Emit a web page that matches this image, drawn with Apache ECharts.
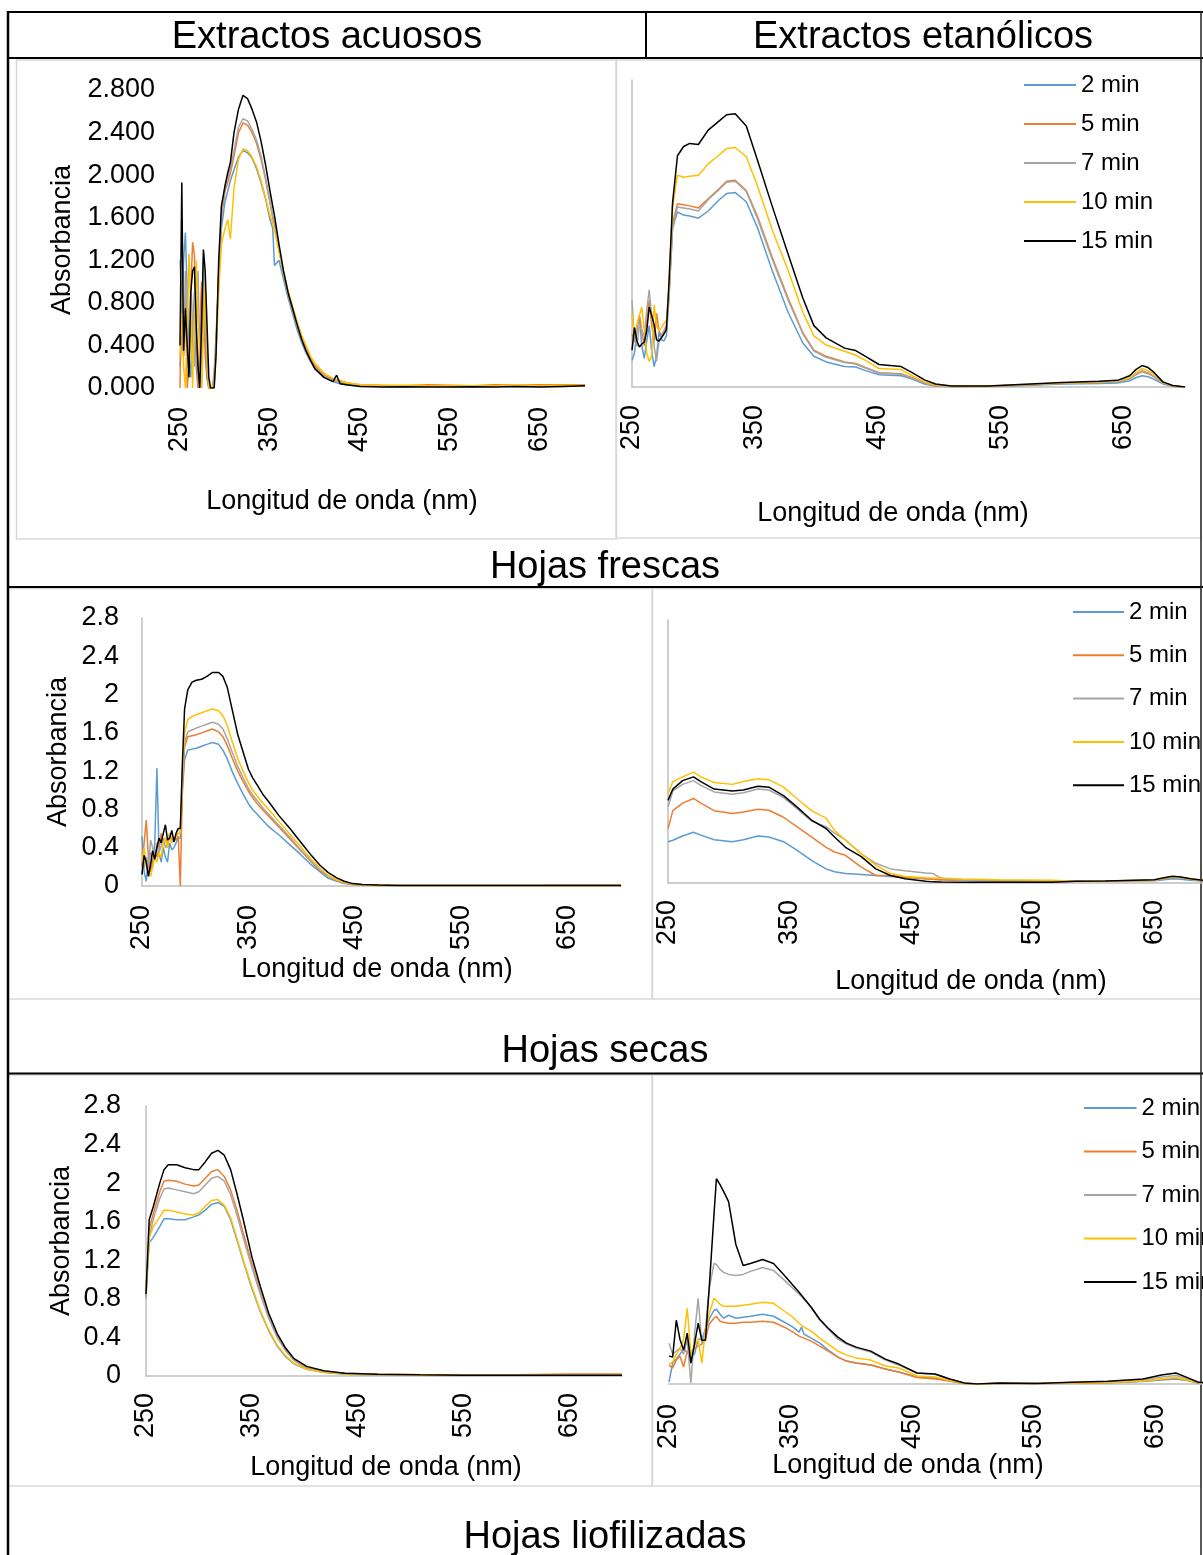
<!DOCTYPE html>
<html>
<head>
<meta charset="utf-8">
<script src="https://cdn.jsdelivr.net/npm/echarts@6/dist/echarts.min.js"></script>
<style>
  html, body { margin: 0; padding: 0; background: #fff; overflow: hidden; }
  #chart { width: 1203px; height: 1555px; }
</style>
</head>
<body>
<div id="chart"></div>
<script>
// ---- Spectra (absorbance vs wavelength, nm) ----
const seriesNames = ['2 min', '5 min', '7 min', '10 min', '15 min'];

// Extractos acuosos - hojas frescas
const wlAcuFre = [250,252,254,256,258,260,262,264,266,268,270,272,274,276,278,280,282,284,286,288,290,293,296,300,303,306,310,315,320,325,330,335,340,345,350,353,355,360,365,370,375,380,385,390,395,400,410,420,424,428,435,450,475,500,525,550,575,600,625,650,675,700];
const acuFre2  = [0.20,0.60,1.20,1.46,0.90,0.30,0.10,0.50,0.90,0.20,0.00,0.30,0.90,1.00,0.50,0.10,0.00,0.00,0.00,0.10,0.50, 1.00,1.50,1.75,1.85,1.95,2.05,2.17,2.23,2.21,2.16,2.06,1.93,1.78,1.58,1.50,1.15,1.20,1.02,0.85,0.70,0.55,0.43,0.33,0.25,0.18,0.10,0.06,0.05,0.04,0.03,0.02,0.015,0.015,0.02,0.015,0.015,0.02,0.015,0.015,0.02,0.02];
const acuFre5  = [0.00,1.00,0.30,0.80,0.00,0.20,0.90,1.37,1.25,0.50,0.00,0.50,1.00,0.90,0.30,0.10,0.00,0.00,0.00,0.05,0.40, 1.05,1.60,1.85,1.93,2.02,2.18,2.40,2.49,2.47,2.40,2.30,2.15,1.96,1.74,1.60,1.53,1.30,1.07,0.90,0.74,0.60,0.48,0.37,0.28,0.21,0.12,0.08,0.07,0.06,0.05,0.03,0.025,0.02,0.03,0.025,0.02,0.03,0.025,0.03,0.03,0.03];
const acuFre7  = [1.20,0.80,0.30,1.10,0.50,0.20,1.00,0.60,0.20,0.90,1.10,0.30,0.00,1.20,0.70,0.20,0.00,0.00,0.00,0.00,0.35, 1.10,1.62,1.90,1.98,2.07,2.23,2.45,2.53,2.51,2.43,2.33,2.18,1.98,1.75,1.62,1.55,1.30,1.07,0.88,0.72,0.58,0.45,0.35,0.26,0.19,0.11,0.07,0.06,0.05,0.04,0.02,0.015,0.015,0.015,0.015,0.015,0.015,0.015,0.015,0.015,0.02];
const acuFre10 = [0.30,0.70,0.20,0.00,0.50,1.26,0.80,0.00,0.70,1.20,0.60,0.40,0.00,0.50,1.00,0.40,0.00,0.00,0.00,0.05,0.30, 0.90,1.35,1.50,1.58,1.40,1.88,2.15,2.245,2.23,2.17,2.08,1.95,1.79,1.62,1.55,1.48,1.28,1.10,0.92,0.77,0.63,0.50,0.40,0.30,0.23,0.14,0.09,0.08,0.07,0.05,0.03,0.02,0.025,0.02,0.02,0.022,0.02,0.025,0.02,0.025,0.025];
const acuFre15 = [0.40,1.93,0.35,0.75,0.40,0.10,0.90,1.10,1.14,0.60,0.20,0.00,0.60,1.30,1.10,0.60,0.10,0.00,0.00,0.00,0.30, 1.20,1.71,1.90,2.02,2.12,2.40,2.62,2.75,2.72,2.62,2.50,2.32,2.10,1.85,1.71,1.62,1.35,1.10,0.90,0.75,0.60,0.46,0.35,0.26,0.18,0.10,0.06,0.12,0.04,0.03,0.015,0.01,0.012,0.01,0.01,0.012,0.01,0.015,0.01,0.015,0.02];

// Extractos etanólicos - hojas frescas
const wlEtaFre = [250,252,254,256,258,260,262,264,266,268,270,272,274,276,278,280,283,287,292,297,304,312,321,327,334,343,352,364,377,389,398,408,423,432,440,451,460,469,478,488,497,510,540,570,600,630,645,655,660,665,670,675,682,690,700];
const etaFre2  = [0.26,0.33,0.55,0.69,0.40,0.28,0.45,0.60,0.35,0.20,0.30,0.54,0.46,0.45,0.50, 0.85,1.55,1.71,1.68,1.67,1.65,1.72,1.83,1.89,1.90,1.81,1.56,1.14,0.73,0.43,0.30,0.245,0.20,0.195,0.16,0.12,0.115,0.11,0.077,0.03,0.01,0.005,0.006,0.015,0.03,0.035,0.04,0.06,0.09,0.11,0.10,0.075,0.03,0.008,0.0];
const etaFre5  = [0.52,0.45,0.60,0.70,0.55,0.40,0.65,0.85,0.60,0.45,0.72,0.55,0.50,0.55,0.60, 0.90,1.60,1.79,1.78,1.77,1.75,1.84,1.94,2.01,2.02,1.92,1.67,1.27,0.87,0.53,0.36,0.30,0.245,0.23,0.19,0.14,0.135,0.13,0.09,0.04,0.01,0.005,0.008,0.02,0.035,0.045,0.05,0.08,0.12,0.15,0.13,0.10,0.04,0.01,0.0];
const etaFre7  = [0.85,0.45,0.40,0.60,0.55,0.50,0.75,0.95,0.70,0.40,0.25,0.45,0.50,0.55,0.58, 0.88,1.55,1.76,1.75,1.74,1.72,1.83,1.93,2.00,2.01,1.91,1.65,1.25,0.85,0.52,0.35,0.29,0.24,0.225,0.185,0.135,0.13,0.125,0.085,0.04,0.01,0.005,0.008,0.02,0.035,0.045,0.05,0.08,0.12,0.16,0.14,0.10,0.04,0.01,0.0];
const etaFre10 = [0.72,0.50,0.60,0.70,0.78,0.55,0.33,0.25,0.30,0.80,0.60,0.55,0.58,0.62,0.65, 0.95,1.75,2.07,2.05,2.06,2.07,2.18,2.27,2.33,2.34,2.25,1.97,1.54,1.14,0.73,0.50,0.41,0.35,0.31,0.26,0.18,0.175,0.17,0.11,0.05,0.02,0.01,0.01,0.025,0.04,0.05,0.06,0.09,0.14,0.18,0.16,0.12,0.045,0.012,0.0];
const etaFre15 = [0.36,0.58,0.45,0.39,0.42,0.44,0.55,0.78,0.70,0.61,0.46,0.45,0.48,0.52,0.56, 1.00,1.80,2.26,2.35,2.38,2.37,2.51,2.60,2.66,2.67,2.55,2.22,1.77,1.30,0.87,0.60,0.48,0.38,0.356,0.30,0.22,0.21,0.20,0.14,0.07,0.03,0.01,0.01,0.027,0.044,0.055,0.065,0.11,0.17,0.21,0.19,0.14,0.05,0.015,0.0];

// Extractos acuosos - hojas secas
const wlAcuSec = [250,252,254,256,258,260,262,264,266,268,270,272,274,276,278,280,282,284,286,288,290,293,297,301,306,311,316,322,326,330,335,340,345,350,354,359,364,369,379,389,399,409,417,425,433,440,448,457,472,490,525,560,600,650,700];
const acuSec2  = [0.52,0.15,0.05,0.30,0.35,0.20,0.45,1.23,0.35,0.25,0.40,0.30,0.25,0.45,0.38,0.40,0.45,0.50, 0.50,1.00,1.32,1.42,1.43,1.44,1.46,1.48,1.50,1.48,1.42,1.33,1.19,1.07,0.96,0.86,0.80,0.74,0.68,0.62,0.53,0.43,0.33,0.22,0.15,0.08,0.05,0.025,0.015,0.01,0.005,0.005,0.005,0.005,0.005,0.005,0.005];
const acuSec5  = [0.20,0.45,0.69,0.30,0.15,0.25,0.35,0.30,0.40,0.55,0.45,0.50,0.40,0.55,0.45,0.50,0.48,0.52, 0.00,1.05,1.45,1.56,1.57,1.58,1.60,1.62,1.64,1.61,1.56,1.47,1.33,1.20,1.09,0.99,0.92,0.85,0.79,0.73,0.61,0.49,0.37,0.25,0.16,0.10,0.055,0.03,0.02,0.01,0.008,0.008,0.008,0.008,0.008,0.01,0.01];
const acuSec7  = [0.35,0.20,0.30,0.15,0.48,0.40,0.30,0.45,0.35,0.42,0.50,0.40,0.45,0.55,0.48,0.50,0.52,0.55, 0.55,1.10,1.50,1.61,1.63,1.65,1.67,1.69,1.71,1.69,1.64,1.54,1.39,1.25,1.13,1.02,0.95,0.88,0.81,0.75,0.63,0.51,0.38,0.26,0.17,0.10,0.06,0.03,0.02,0.01,0.005,0.005,0.005,0.005,0.005,0.005,0.005];
const acuSec10 = [0.25,0.40,0.20,0.15,0.10,0.20,0.30,0.25,0.35,0.30,0.45,0.50,0.40,0.55,0.45,0.50,0.52,0.55, 0.55,1.20,1.60,1.74,1.77,1.79,1.81,1.83,1.85,1.83,1.78,1.68,1.50,1.33,1.20,1.08,1.00,0.93,0.86,0.80,0.67,0.54,0.41,0.28,0.19,0.11,0.065,0.035,0.02,0.01,0.005,0.005,0.005,0.005,0.005,0.005,0.005];
const acuSec15 = [0.12,0.32,0.25,0.10,0.22,0.37,0.28,0.40,0.50,0.45,0.55,0.64,0.48,0.50,0.58,0.46,0.55,0.60, 0.60,1.30,1.85,2.05,2.13,2.15,2.16,2.19,2.23,2.23,2.19,2.08,1.83,1.58,1.40,1.22,1.13,1.04,0.95,0.88,0.73,0.60,0.46,0.32,0.22,0.14,0.085,0.05,0.025,0.015,0.01,0.005,0.005,0.005,0.005,0.005,0.005];

// Extractos etanólicos - hojas secas
const wlEtaSec = [250,254,262,271,277,288,303,312,324,333,345,356,368,380,387,396,409,421,433,445,462,468,475,492,522,566,586,610,650,658,665,672,680,690,700];
const etaSec2  = [0.44,0.455,0.50,0.54,0.51,0.46,0.44,0.46,0.50,0.49,0.44,0.35,0.24,0.15,0.12,0.10,0.09,0.08,0.07,0.06,0.045,0.04,0.035,0.03,0.025,0.02,0.018,0.02,0.025,0.035,0.045,0.04,0.03,0.02,0.015];
const etaSec5  = [0.58,0.77,0.85,0.90,0.85,0.77,0.74,0.755,0.785,0.775,0.70,0.60,0.49,0.38,0.33,0.295,0.17,0.08,0.08,0.064,0.045,0.04,0.035,0.028,0.022,0.02,0.018,0.02,0.03,0.045,0.06,0.055,0.04,0.025,0.015];
const etaSec7  = [0.81,0.98,1.05,1.09,1.04,0.97,0.945,0.96,1.00,0.99,0.91,0.79,0.66,0.60,0.53,0.46,0.31,0.21,0.15,0.13,0.107,0.10,0.05,0.028,0.022,0.02,0.018,0.02,0.03,0.05,0.065,0.06,0.04,0.03,0.015];
const etaSec10 = [0.95,1.08,1.13,1.18,1.13,1.07,1.05,1.08,1.11,1.10,1.02,0.90,0.77,0.69,0.56,0.455,0.31,0.19,0.10,0.07,0.055,0.053,0.05,0.043,0.035,0.028,0.018,0.02,0.03,0.05,0.064,0.06,0.04,0.03,0.02];
const etaSec15 = [0.88,1.00,1.09,1.13,1.08,1.00,0.98,0.99,1.03,1.02,0.93,0.81,0.67,0.58,0.49,0.38,0.28,0.15,0.08,0.046,0.018,0.012,0.01,0.007,0.007,0.008,0.018,0.022,0.035,0.055,0.071,0.065,0.045,0.03,0.015];

// Extractos acuosos - hojas liofilizadas
const wlAcuLio = [250,253,257,263,267,271,279,287,295,300,306,312,318,324,330,336,342,350,358,366,374,382,390,402,418,438,469,509,550,600,650,700];
const acuLio2  = [0.88,1.38,1.44,1.55,1.63,1.63,1.62,1.62,1.65,1.67,1.72,1.78,1.80,1.76,1.62,1.41,1.19,0.91,0.67,0.47,0.31,0.20,0.125,0.07,0.035,0.017,0.01,0.008,0.006,0.006,0.006,0.006];
const acuLio5  = [0.82,1.52,1.69,1.91,2.02,2.03,2.02,1.99,1.97,1.98,2.05,2.12,2.14,2.07,1.93,1.72,1.48,1.17,0.87,0.615,0.41,0.27,0.166,0.086,0.045,0.028,0.018,0.012,0.01,0.012,0.02,0.02];
const acuLio7  = [0.80,1.44,1.63,1.84,1.94,1.95,1.93,1.91,1.89,1.91,1.98,2.05,2.07,2.02,1.88,1.67,1.43,1.13,0.85,0.60,0.40,0.26,0.16,0.08,0.042,0.025,0.015,0.01,0.008,0.008,0.01,0.01];
const acuLio10 = [0.90,1.44,1.55,1.65,1.72,1.72,1.70,1.68,1.67,1.69,1.76,1.82,1.83,1.77,1.64,1.43,1.20,0.93,0.68,0.48,0.32,0.21,0.13,0.07,0.04,0.02,0.012,0.01,0.008,0.008,0.01,0.01];
const acuLio15 = [0.85,1.62,1.76,2.00,2.14,2.19,2.19,2.16,2.14,2.14,2.22,2.31,2.34,2.29,2.14,1.89,1.62,1.24,0.93,0.65,0.44,0.29,0.18,0.10,0.055,0.028,0.017,0.012,0.008,0.008,0.008,0.008];

// Extractos etanólicos - hojas liofilizadas
const wlEtaLio = [250,253,256,259,262,265,268,271,274,277,280,283,287,289,292,295,299,305,311,317,327,336,345,352,357,359,361,367,374,381,389,396,404,416,428,439,454,469,481,493,503,522,552,581,611,640,655,667,676,685,700];
const etaLio2  = [0.02,0.21,0.25,0.30,0.35,0.32,0.26,0.30,0.45,0.45,0.55, 0.65,0.74,0.75,0.70,0.66,0.69,0.66,0.67,0.68, 0.70,0.68,0.62,0.57,0.52,0.57,0.50,0.46,0.41,0.34,0.27,0.23,0.21,0.19,0.15,0.12,0.07,0.06,0.03,0.005,0.0,0.005,0.005,0.008,0.012,0.025,0.04,0.05,0.035,0.01,0.003];
const etaLio5  = [0.19,0.16,0.24,0.28,0.17,0.33,0.30,0.36,0.38,0.40,0.45, 0.60,0.66,0.68,0.63,0.62,0.61,0.61,0.62,0.62, 0.63,0.62,0.57,0.52,0.48,0.47,0.46,0.43,0.38,0.33,0.27,0.23,0.21,0.19,0.15,0.12,0.065,0.05,0.03,0.005,0.0,0.005,0.005,0.01,0.015,0.03,0.05,0.06,0.04,0.015,0.003];
const etaLio7  = [0.41,0.30,0.33,0.36,0.30,0.45,0.01,0.50,0.86,0.40,0.55, 0.95,1.21,1.20,1.15,1.12,1.10,1.09,1.10,1.13, 1.17,1.14,1.04,0.96,0.90,0.88,0.85,0.77,0.64,0.55,0.45,0.40,0.36,0.32,0.24,0.19,0.11,0.095,0.045,0.01,0.0,0.008,0.005,0.015,0.02,0.04,0.07,0.085,0.055,0.02,0.005];
const etaLio10 = [0.20,0.22,0.30,0.35,0.45,0.76,0.30,0.38,0.45,0.21,0.55, 0.70,0.86,0.84,0.80,0.78,0.78,0.78,0.79,0.80, 0.82,0.81,0.73,0.67,0.61,0.59,0.57,0.53,0.46,0.40,0.33,0.29,0.26,0.24,0.18,0.16,0.08,0.07,0.035,0.005,0.0,0.005,0.005,0.01,0.015,0.03,0.05,0.065,0.04,0.015,0.005];
const etaLio15 = [0.28,0.27,0.64,0.45,0.34,0.51,0.21,0.40,0.61,0.44,0.44, 0.95,1.70,2.06,2.00,1.93,1.83,1.40,1.19,1.21, 1.25,1.21,1.09,0.99,0.92,0.89,0.86,0.77,0.65,0.56,0.47,0.41,0.37,0.33,0.25,0.20,0.11,0.10,0.05,0.01,0.0,0.01,0.005,0.017,0.027,0.05,0.09,0.11,0.067,0.02,0.005];

// Axis tick labels shown on the wavelength axes
const wlTickLabels = [250, 350, 450, 550, 650];

// ---- Layout & styling ----
const FONT = "'Liberation Sans', Arial, sans-serif";
const lineColors = ['#5B9BD5', '#ED7D31', '#A5A5A5', '#FFC000', '#000000'];
const axisGrey = '#BFBFBF';
const TICK_FS = 27;

const panels = [
  { wl: wlAcuFre, sets: [acuFre2, acuFre5, acuFre7, acuFre10, acuFre15],
    box: { left: 180, top: 90, width: 405, height: 298 }, yMax: 2.8, yStep: 0.4,
    yFmt: v => v.toFixed(3), xLine: false, yLine: false, xMargin: 19, yMargin: 25 },
  { wl: wlEtaFre, sets: [etaFre2, etaFre5, etaFre7, etaFre10, etaFre15],
    box: { left: 632, top: 80, width: 553, height: 307 }, yMax: 3.0, yStep: 0.5,
    yFmt: null, xLine: true, yLine: true, xMargin: 18, yMargin: 8 },
  { wl: wlAcuSec, sets: [acuSec2, acuSec5, acuSec7, acuSec10, acuSec15],
    box: { left: 142, top: 618, width: 479, height: 268 }, yMax: 2.8, yStep: 0.4,
    yFmt: v => String(Math.round(v * 10) / 10), xLine: true, yLine: true, xMargin: 19, yMargin: 23 },
  { wl: wlEtaSec, sets: [etaSec2, etaSec5, etaSec7, etaSec10, etaSec15],
    box: { left: 668, top: 620, width: 547, height: 263 }, yMax: 2.8, yStep: 0.4,
    yFmt: null, xLine: true, yLine: true, xMargin: 17, yMargin: 8 },
  { wl: wlAcuLio, sets: [acuLio2, acuLio5, acuLio7, acuLio10, acuLio15],
    box: { left: 146, top: 1106, width: 476, height: 270 }, yMax: 2.8, yStep: 0.4,
    yFmt: v => String(Math.round(v * 10) / 10), xLine: true, yLine: true, xMargin: 17, yMargin: 25 },
  { wl: wlEtaLio, sets: [etaLio2, etaLio5, etaLio7, etaLio10, etaLio15],
    box: { left: 669, top: 1105, width: 547, height: 279 }, yMax: 2.8, yStep: 0.4,
    yFmt: null, xLine: true, yLine: false, xMargin: 20, yMargin: 8 }
];

const grid = [], xAxis = [], yAxis = [], series = [];
panels.forEach((p, i) => {
  grid.push(Object.assign({ containLabel: false, outerBoundsMode: 'none' }, p.box));
  xAxis.push({
    type: 'value', gridIndex: i, min: 250, max: 700, interval: 50,
    axisLine: { show: p.xLine, onZero: false, lineStyle: { color: axisGrey, width: 1.5 } },
    axisTick: { show: false }, splitLine: { show: false },
    axisLabel: {
      rotate: 90, margin: p.xMargin, fontSize: TICK_FS, fontFamily: FONT, color: '#000',
      formatter: v => (wlTickLabels.indexOf(Math.round(v)) >= 0 ? String(Math.round(v)) : '')
    }
  });
  yAxis.push({
    type: 'value', gridIndex: i, min: 0, max: p.yMax, interval: p.yStep,
    axisLine: { show: p.yLine, onZero: false, lineStyle: { color: axisGrey, width: 1.5 } },
    axisTick: { show: false }, splitLine: { show: false },
    axisLabel: {
      show: !!p.yFmt, margin: p.yMargin, fontSize: TICK_FS, fontFamily: FONT, color: '#000',
      formatter: p.yFmt || (() => '')
    }
  });
  p.sets.forEach((vals, k) => {
    series.push({
      type: 'line', name: seriesNames[k], xAxisIndex: i, yAxisIndex: i,
      data: p.wl.map((w, j) => [w, vals[j]]),
      showSymbol: false, symbol: 'none', smooth: false,
      lineStyle: { color: lineColors[k], width: 1.5 },
      itemStyle: { color: lineColors[k] },
      emphasis: { disabled: true }, silent: true
    });
  });
});

// Legends for the ethanolic panels
function legendAt(left, top, gap, iconW) {
  return {
    orient: 'vertical', left: left, top: top, padding: 0, itemGap: gap,
    itemWidth: iconW, itemHeight: 2, icon: 'rect', selectedMode: false,
    data: seriesNames,
    textStyle: { fontSize: 24, fontFamily: FONT, color: '#000' }
  };
}
const legend = [
  legendAt(1024, 73, 15, 52),
  legendAt(1073, 600, 19.3, 51),
  legendAt(1084, 1096, 19.5, 52.5)
];

// Table frame, cell borders and headings
const g = [];
function hline(y, x1, x2, color, w) { g.push({ type: 'line', silent: true, shape: { x1: x1, y1: y, x2: x2, y2: y }, style: { stroke: color, lineWidth: w } }); }
function vline(x, y1, y2, color, w) { g.push({ type: 'line', silent: true, shape: { x1: x, y1: y1, x2: x, y2: y2 }, style: { stroke: color, lineWidth: w } }); }
function box(x, y, w, h) { g.push({ type: 'rect', silent: true, shape: { x: x, y: y, width: w, height: h }, style: { fill: 'none', stroke: '#D9D9D9', lineWidth: 1.5 } }); }
function label(text, x, y, size, rot) {
  g.push({ type: 'text', silent: true, x: x, y: y, rotation: rot || 0,
    style: { text: text, fontSize: size, fontFamily: FONT, fill: '#000', align: 'center', verticalAlign: 'middle' } });
}

box(16.5, 60, 599.5, 479);
box(616.5, 60, 584.5, 478);
box(8, 588.5, 644, 410.5);
box(652.5, 588.5, 548.5, 410.5);
box(8, 1075, 644, 411);
box(652.5, 1075, 548.5, 411);

hline(12, 8, 1203, '#000', 2);
hline(58, 8, 1203, '#000', 2);
hline(587, 8, 1203, '#000', 2);
hline(1073.5, 8, 1203, '#000', 2);
vline(8, 11, 1555, '#000', 2.5);
vline(646, 12, 58, '#000', 2);
vline(1201, 11, 1555, '#222', 1.5);

label('Extractos acuosos', 327, 38, 38);
label('Extractos etanólicos', 923, 38, 38);
label('Hojas frescas', 605, 568, 38);
label('Hojas secas', 605, 1052, 38);
label('Hojas liofilizadas', 605, 1538, 38);

label('Longitud de onda (nm)', 342, 502, 27);
label('Longitud de onda (nm)', 893, 514, 27);
label('Longitud de onda (nm)', 377, 970, 27);
label('Longitud de onda (nm)', 971, 982, 27);
label('Longitud de onda (nm)', 386, 1468, 27);
label('Longitud de onda (nm)', 908, 1466, 27);

label('Absorbancia', 63, 240, 27, Math.PI / 2);
label('Absorbancia', 59, 752, 27, Math.PI / 2);
label('Absorbancia', 62, 1241, 27, Math.PI / 2);

const chart = echarts.init(document.getElementById('chart'), null, { renderer: 'canvas' });
chart.setOption({
  backgroundColor: '#ffffff',
  animation: false,
  textStyle: { fontFamily: FONT },
  grid: grid,
  xAxis: xAxis,
  yAxis: yAxis,
  legend: legend,
  tooltip: { show: false },
  graphic: { elements: g },
  series: series
});
</script>
</body>
</html>
